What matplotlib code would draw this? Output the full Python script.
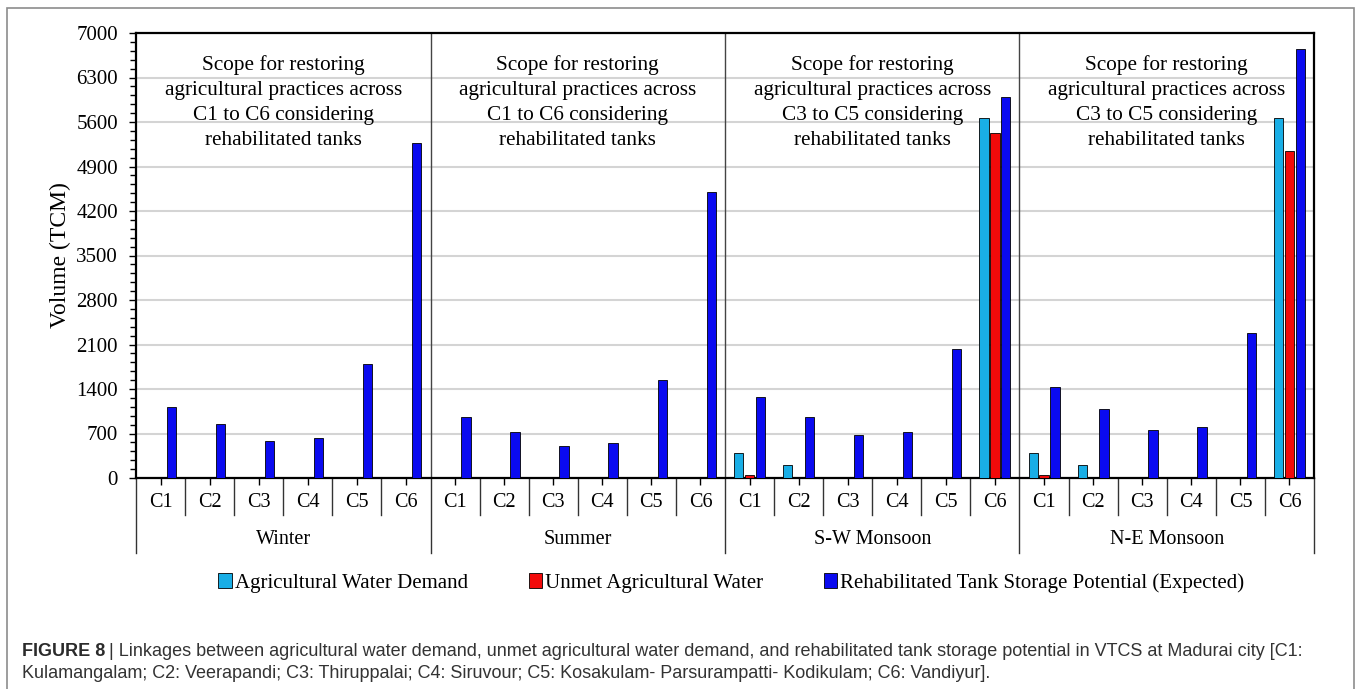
import numpy as np
import matplotlib
matplotlib.use("Agg")
import matplotlib.pyplot as plt
from matplotlib.patches import Rectangle
from matplotlib.ticker import MultipleLocator

# data (TCM)
seasons = ["Winter", "Summer", "S-W Monsoon", "N-E Monsoon"]
categories = ["C1", "C2", "C3", "C4", "C5", "C6"]
series_names = ["Agricultural Water Demand", "Unmet Agricultural Water",
                "Rehabilitated Tank Storage Potential (Expected)"]

demand = [0, 0, 0, 0, 0, 0,
          0, 0, 0, 0, 0, 0,
          400, 200, 0, 0, 0, 5670,
          400, 200, 0, 0, 0, 5670]
unmet = [0, 0, 0, 0, 0, 0,
         0, 0, 0, 0, 0, 0,
         55, 0, 0, 0, 0, 5420,
         55, 0, 0, 0, 0, 5150]
storage = [1120, 850, 580, 635, 1790, 5265,
           955, 720, 510, 545, 1535, 4505,
           1280, 955, 670, 720, 2035, 6000,
           1435, 1080, 755, 805, 2285, 6755]

notes = ["Scope for restoring\nagricultural practices across\nC1 to C6 considering\nrehabilitated tanks",
         "Scope for restoring\nagricultural practices across\nC1 to C6 considering\nrehabilitated tanks",
         "Scope for restoring\nagricultural practices across\nC3 to C5 considering\nrehabilitated tanks",
         "Scope for restoring\nagricultural practices across\nC3 to C5 considering\nrehabilitated tanks"]

colors = ["#19AEE6", "#F20A0A", "#0A0AF0"]

plt.rcParams['font.family'] = ['Liberation Serif', 'DejaVu Serif']

W, H = 1357, 689
fig = plt.figure(figsize=(W / 100, H / 100), dpi=100)
ax = fig.add_axes([136 / W, 1 - 478 / H, (1314 - 136) / W, (478 - 33) / H])

n = len(seasons) * len(categories)
x = np.arange(n)
bw = 0.19
off = 0.22
for i, vals in enumerate([demand, unmet, storage]):
    ax.bar(x + (i - 1) * off, vals, width=bw, color=colors[i],
           edgecolor="black", linewidth=0.6, label=series_names[i], zorder=3)

ax.set_xlim(-0.5, n - 0.5)
ax.set_ylim(0, 7000)
ax.yaxis.set_major_locator(MultipleLocator(700))
ax.yaxis.set_minor_locator(MultipleLocator(140))
ax.tick_params(axis="y", which="major", direction="out", length=5, width=1,
               labelsize=15, pad=8)
ax.tick_params(axis="y", which="minor", direction="out", length=4, width=1)
ax.grid(axis="y", color="#d4d4d4", linewidth=1.5, zorder=0)
ax.set_axisbelow(True)
for s in ax.spines.values():
    s.set_linewidth(1.6)
ax.set_ylabel("Volume (TCM)", fontsize=17, labelpad=4)

# x axis: short ticks at category centres, labels drawn as text
ax.set_xticks(x)
ax.set_xticklabels([])
ax.tick_params(axis="x", direction="out", length=5, width=1)

trans = ax.get_xaxis_transform()
for k in range(n):
    ax.text(k, -0.054, categories[k % 6], transform=trans, ha="center",
            va="center", fontsize=14.5)
for k in range(n + 1):
    b = k - 0.5
    long = (k % 6 == 0)
    ax.plot([b, b], [0, -0.1685 if long else -0.083], transform=trans,
            color="#333333", lw=1, clip_on=False)
    if long and 0 < k < n:
        ax.axvline(b, color="#444444", lw=1, zorder=2)
for j, name in enumerate(seasons):
    ax.text(j * 6 + 2.5, -0.139, name, transform=trans, ha="center",
            va="center", fontsize=14.5)
    ax.text(j * 6 + 2.5, 0.95, notes[j], transform=trans,
            ha="center", va="top", fontsize=15.3, linespacing=1.43, zorder=4)

leg = fig.legend(loc="center", bbox_to_anchor=(0.539, 1 - 583 / H), ncol=3,
                 frameon=False, fontsize=15, handlelength=0.65, handleheight=0.7,
                 handletextpad=0.15, columnspacing=2.9)

# outer frame
fig.patches.append(Rectangle((7 / W, -0.05), (1354 - 7) / W, 1.05 - 8 / H,
                             transform=fig.transFigure, fill=False,
                             edgecolor="#8c8c8c", lw=1.2))

# caption
cap_font = ['Liberation Sans Narrow', 'Liberation Sans', 'DejaVu Sans']
fig.canvas.draw()
r = fig.canvas.get_renderer()
t = fig.text(22 / W, 1 - 652 / H, "FIGURE 8", family=cap_font, fontsize=13,
             weight="bold", color="#2b2b2b", va="center")
bb = t.get_window_extent(renderer=r)
fig.text(bb.x1 / W + 4 / W, 1 - 652 / H,
         "| Linkages between agricultural water demand, unmet agricultural water demand, "
         "and rehabilitated tank storage potential in VTCS at Madurai city [C1:",
         family=cap_font, fontsize=13, color="#333333", va="center")
fig.text(22 / W, 1 - 674 / H,
         "Kulamangalam; C2: Veerapandi; C3: Thiruppalai; C4: Siruvour; "
         "C5: Kosakulam- Parsurampatti- Kodikulam; C6: Vandiyur].",
         family=cap_font, fontsize=13, color="#333333", va="center")

fig.savefig("out.png", dpi=100)
